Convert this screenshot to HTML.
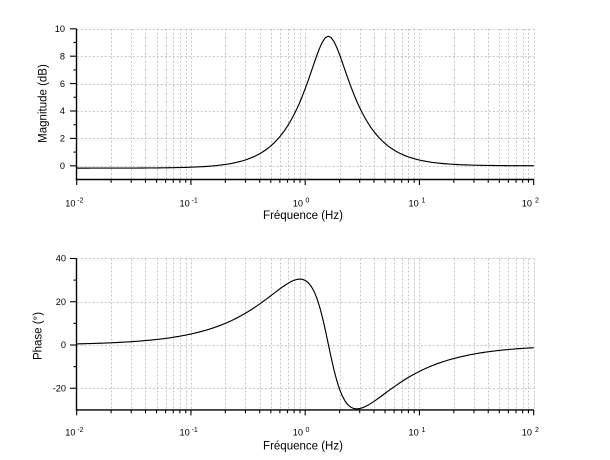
<!DOCTYPE html>
<html><head><meta charset="utf-8">
<style>
html,body{margin:0;padding:0;background:#fff;}
svg{display:block;}
text{font-family:"Liberation Sans",Arial,sans-serif;fill:#000;}
.t{font-size:9.2px;}
.e{font-size:7px;}
.l{font-size:11.5px;}
</style></head>
<body>
<svg id="s" width="610" height="460" viewBox="0 0 610 460" xmlns="http://www.w3.org/2000/svg">
<rect width="610" height="460" fill="#fff"/>
<g id="grid"></g>
<g id="axes"></g>
<g id="curves"></g>

<!-- top y tick labels -->
<g class="t" text-anchor="end">
<text x="65" y="32">10</text>
<text x="65" y="59.4">8</text>
<text x="65" y="86.8">6</text>
<text x="65" y="114.2">4</text>
<text x="65" y="141.6">2</text>
<text x="65" y="169">0</text>
</g>
<!-- bottom y tick labels -->
<g class="t" text-anchor="end">
<text x="66" y="261.7">40</text>
<text x="66" y="304.9">20</text>
<text x="66" y="348.2">0</text>
<text x="66" y="391.5">-20</text>
</g>

<!-- top x tick labels -->
<g class="t" text-anchor="end">
<text x="75.5" y="206.3">10</text>
<text x="189.7" y="206.3">10</text>
<text x="303" y="206.3">10</text>
<text x="418.7" y="206.3">10</text>
<text x="532" y="206.3">10</text>
</g>
<g class="e">
<text x="77.3" y="202.5">-2</text>
<text x="191.5" y="202.5">-1</text>
<text x="305.5" y="202.5">0</text>
<text x="421.5" y="202.5">1</text>
<text x="535" y="202.5">2</text>
</g>
<!-- bottom x tick labels -->
<g class="t" text-anchor="end">
<text x="75.5" y="435.6">10</text>
<text x="189.7" y="435.6">10</text>
<text x="303" y="435.6">10</text>
<text x="418.7" y="435.6">10</text>
<text x="532" y="435.6">10</text>
</g>
<g class="e">
<text x="77.3" y="431.8">-2</text>
<text x="191.5" y="431.8">-1</text>
<text x="305.5" y="431.8">0</text>
<text x="421.5" y="431.8">1</text>
<text x="535" y="431.8">2</text>
</g>

<!-- axis labels -->
<text class="l" x="303" y="219" text-anchor="middle">Fréquence (Hz)</text>
<text class="l" x="303" y="449.5" text-anchor="middle">Fréquence (Hz)</text>
<text class="l" text-anchor="middle" transform="translate(46.5,103.5) rotate(-90)">Magnitude (dB)</text>
<text class="l" text-anchor="middle" transform="translate(41.5,336) rotate(-90)">Phase (°)</text>
</svg>
<script>
(function(){
var NS="http://www.w3.org/2000/svg";
function el(parent,name,attrs){var e=document.createElementNS(NS,name);for(var k in attrs)e.setAttribute(k,attrs[k]);parent.appendChild(e);return e;}
var X=function(f){return 76.7+114.25*(Math.log10(f)+2);};
var YT=function(v){return 165.8-13.7*v;};
var YB=function(v){return 345-2.163*v;};
var grid=document.getElementById('grid'),axes=document.getElementById('axes'),curves=document.getElementById('curves');
var px=function(x){return Math.round(x)+0.5;};
var panels=[{Y:YT,top:10,bot:-1,maj:[0,2,4,6,8,10],min:[1,3,5,7,9]},
            {Y:YB,top:40,bot:-30,maj:[-20,0,20,40],min:[-10,10,30]}];
panels.forEach(function(p){
  var yTop=p.Y(p.top),yBot=p.Y(p.bot);
  var gridStyle={stroke:"#c6c6c6","stroke-width":1,"stroke-dasharray":"2,2",fill:"none"};
  for(var d=-2;d<=1;d++){for(var m=1;m<=9;m++){var f=m*Math.pow(10,d);if(d==-2&&m==1)continue;var x=px(X(f));
    el(grid,'line',Object.assign({x1:x,x2:x,y1:yTop,y2:yBot},gridStyle));}}
  var x100=px(X(100));el(grid,'line',Object.assign({x1:x100,x2:x100,y1:yTop,y2:yBot},gridStyle));
  p.maj.forEach(function(v){var y=px(p.Y(v));el(grid,'line',Object.assign({x1:76.7,x2:533.7,y1:y,y2:y},gridStyle));});
  var ax=76.5;
  el(axes,'line',{x1:ax,x2:ax,y1:yTop,y2:yBot+0.7,stroke:"#000","stroke-width":1.4});
  el(axes,'line',{x1:ax-0.7,x2:533.9,y1:yBot,y2:yBot,stroke:"#000","stroke-width":1.4});
  p.maj.forEach(function(v){var y=p.Y(v);el(axes,'line',{x1:70,x2:ax,y1:y,y2:y,stroke:"#000","stroke-width":1.1});});
  p.min.forEach(function(v){var y=p.Y(v);el(axes,'line',{x1:73.5,x2:ax,y1:y,y2:y,stroke:"#000","stroke-width":1.1});});
  for(var d2=-2;d2<=2;d2++){var xm=X(Math.pow(10,d2));el(axes,'line',{x1:xm,x2:xm,y1:yBot,y2:yBot+5.5,stroke:"#000","stroke-width":1.1});
    if(d2<2){for(var m2=2;m2<=9;m2++){var xx=X(m2*Math.pow(10,d2));el(axes,'line',{x1:xx,x2:xx,y1:yBot,y2:yBot+3.3,stroke:"#000","stroke-width":1.1});}}}
});
var w0s=100,w1s=98.06,a=20.74,b=6.98;
var magPts=[],phPts=[];
var N=160;
for(var i=0;i<=N;i++){
  var lf=-2+4*i/N,f=Math.pow(10,lf),w=2*Math.PI*f;
  var nr=w1s-w*w,ni=a*w,dr=w0s-w*w,di=b*w;
  var mag=10*Math.log10((nr*nr+ni*ni)/(dr*dr+di*di));
  var ph=(Math.atan2(ni,nr)-Math.atan2(di,dr))*180/Math.PI;
  var x=X(f);
  magPts.push(x.toFixed(2)+","+YT(mag).toFixed(2));
  phPts.push(x.toFixed(2)+","+YB(ph).toFixed(2));
}
el(curves,'polyline',{points:magPts.join(" "),fill:"none",stroke:"#000","stroke-width":1.15,"stroke-linejoin":"round"});
el(curves,'polyline',{points:phPts.join(" "),fill:"none",stroke:"#000","stroke-width":1.15,"stroke-linejoin":"round"});
})();
</script>
</body></html>
